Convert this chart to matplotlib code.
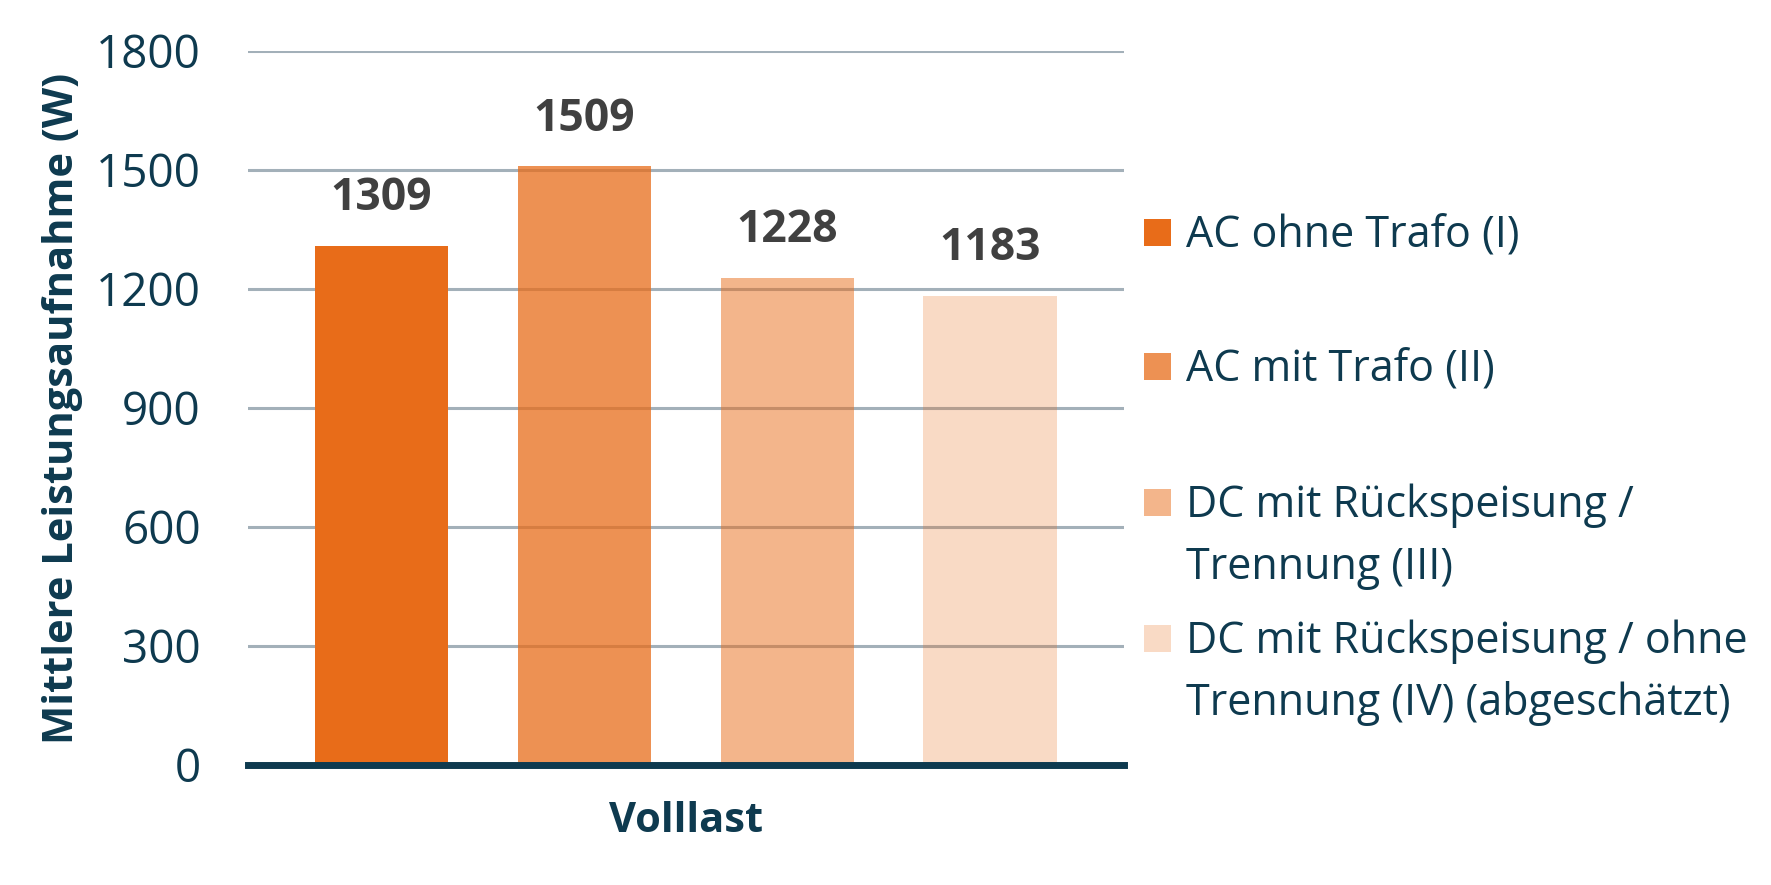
import matplotlib
matplotlib.use('Agg')
import matplotlib.pyplot as plt
from matplotlib.patches import Rectangle

# daten
category = ['Volllast']
series = [['AC ohne Trafo (I)'],
          ['AC mit Trafo (II)'],
          ['DC mit Rückspeisung /', 'Trennung (III)'],
          ['DC mit Rückspeisung / ohne', 'Trennung (IV) (abgeschätzt)']]
values = [1309, 1509, 1228, 1183]
alphas = [1.0, 0.75, 0.5, 0.25]
yticks = [0, 300, 600, 900, 1200, 1500, 1800]

orange = '#E86C19'
navy = '#0E3A4F'
grid_c = '#A3B0B9'
label_c = '#404040'

plt.rcParams['font.family'] = ['Open Sans', 'DejaVu Sans']

W, H = 1771, 885
fig = plt.figure(figsize=(W / 100, H / 100), dpi=100)
ax = fig.add_axes([0.140, 0.1356, 0.4947, 0.8068])

x = list(range(len(values)))
bars = ax.bar(x, values, width=0.66, color=orange, zorder=2)
for b, a in zip(bars, alphas):
    b.set_alpha(a)

for xi, v in zip(x, values):
    ax.annotate(str(v), (xi, v), xytext=(0, 34), textcoords='offset points',
                ha='center', va='center', fontsize=32, fontweight='bold', color=label_c)

ax.set_xlim(-0.658, 3.658)
ax.set_ylim(0, 1800)
ax.set_yticks(yticks)
ax.set_yticklabels([str(t) for t in yticks], fontsize=33, color=navy)
ax.tick_params(axis='y', length=0, pad=34)
ax.set_xticks([1.5])
ax.set_xticklabels(category, fontsize=30, fontweight='bold', color=navy)
ax.tick_params(axis='x', length=0, pad=26)

ax.grid(axis='y', color=grid_c, linewidth=2.2, zorder=1)
for s in ['top', 'right', 'left']:
    ax.spines[s].set_visible(False)
ax.spines['bottom'].set_color(navy)
ax.spines['bottom'].set_linewidth(5)
ax.spines['bottom'].set_zorder(3)

ax.set_ylabel('Mittlere Leistungsaufnahme (W)', fontsize=30, fontweight='bold',
              color=navy, va='center')
ax.yaxis.set_label_coords(-0.212, 0.5)

# legende
leg_y = [232, 366, 502, 638]
for lines, a, yp in zip(series, alphas, leg_y):
    fig.add_artist(Rectangle((1144 / W, 1 - (yp + 13.5) / H), 27 / W, 27 / H,
                             transform=fig.transFigure, facecolor=orange, alpha=a,
                             edgecolor='none'))
    for k, line in enumerate(lines):
        fig.text(1186 / W, 1 - (yp + 4 + 62 * k) / H, line, ha='left', va='center',
                 fontsize=31, color=navy)

fig.savefig('out.png', dpi=100)
